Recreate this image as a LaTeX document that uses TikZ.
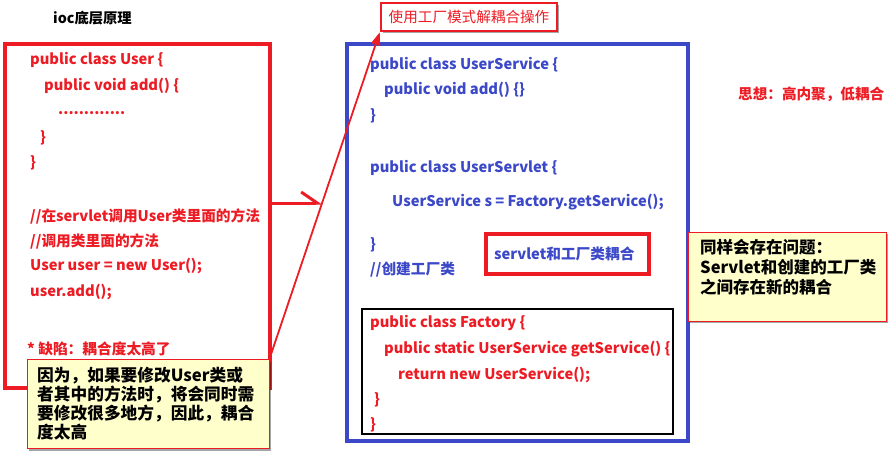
\documentclass[tikz,border=0pt]{standalone}
\usepackage{fontspec}
\setmainfont{Noto Sans CJK SC}
\usetikzlibrary{arrows.meta,shadows}
\definecolor{cred}{RGB}{237,28,36}
\definecolor{cblue}{RGB}{59,72,200}
\definecolor{cyel}{RGB}{255,255,204}
\begin{document}
\begin{tikzpicture}[x=1pt,y=-1pt,
  code/.style={anchor=west,inner sep=0pt,font=\fontsize{14.7}{16}\selectfont\bfseries},
  rcode/.style={code,text=cred},
  bcode/.style={code,text=cblue},
  frame/.style={draw,fill=none,inner sep=0pt},
  shad/.style={drop shadow={shadow xshift=2pt,shadow yshift=-2pt,opacity=0.35,fill=black}},
  callout/.style={frame,draw=cred,line width=0.8pt,fill=cyel,shad},
  calltext/.style={anchor=west,inner sep=0pt,align=left,font=\fontsize{16.7}{19.2}\selectfont\bfseries}]
\useasboundingbox (0,0) rectangle (888,450);
\fill[white] (0,0) rectangle (888,450);

% heading
\node[anchor=west,inner sep=0pt,font=\fontsize{14.3}{16}\selectfont\bfseries] (head) at (53,18) {ioc底层原理};

% left box
\node[frame,draw=cred,line width=4pt,minimum width=265,minimum height=344] (userbox) at (137.5,216) {};
\node[rcode] (l1) at (30,60) {public class User \{};
\node[rcode] (l2) at (44,86) {public void add() \{};
\node[rcode] (l3) at (58,113) {.............};
\node[rcode] (l4) at (40,138) {\}};
\node[rcode] (l5) at (30,163) {\}};
\node[rcode] (l6) at (30,216) {//在servlet调用User类里面的方法};
\node[rcode] (l7) at (30,241) {//调用类里面的方法};
\node[rcode] (l8) at (30,266) {User user = new User();};
\node[rcode] (l9) at (30,292) {user.add();};
\node[rcode] (l10) at (27,349) {* 缺陷：耦合度太高了};

% title box
\node[frame,draw=cred,line width=2.5pt,fill=white,minimum width=176,minimum height=28,shad,
      font=\fontsize{14.6}{16}\selectfont,text=cred] (title) at (469,17) {使用工厂模式解耦合操作};

% blue box
\node[frame,draw=cblue,line width=4pt,minimum width=341,minimum height=397] (svcbox) at (517.5,242.5) {};
\node[bcode] (b1) at (370,65) {public class UserService \{};
\node[bcode] (b2) at (384,90) {public void add() \{\}};
\node[bcode] (b3) at (370,116) {\}};
\node[bcode] (b4) at (370,168) {public class UserServlet \{};
\node[bcode] (b5) at (392,202) {UserService s = Factory.getService();};
\node[bcode] (b6) at (370,245) {\}};
\node[bcode] (b7) at (370,270) {//创建工厂类};

% coupling box
\node[frame,draw=cred,line width=3.5pt,minimum width=163,minimum height=40] (coupbox) at (567.5,254) {};
\node[bcode] (coup) at (494,254) {servlet和工厂类耦合};

% factory box
\node[frame,draw=black,line width=2.5pt,minimum width=311,minimum height=125] (facbox) at (517.5,371.5) {};
\node[rcode] (f1) at (370,323) {public class Factory \{};
\node[rcode] (f2) at (384,349) {public static UserService getService() \{};
\node[rcode] (f3) at (398,375) {return new UserService();};
\node[rcode] (f4) at (374,400) {\}};
\node[rcode] (f5) at (370,425) {\}};

% idea
\node[rcode,font=\fontsize{14.6}{16}\selectfont\bfseries] (idea) at (738,94) {思想：高内聚，低耦合};

% right callout
\node[callout,minimum width=198,minimum height=89] (rcall) at (787,276.5) {};
\node[calltext,font=\fontsize{16.5}{20}\selectfont\bfseries] (rtext) at (700,267.5) {同样会存在问题：\\Servlet和创建的工厂类\\之间存在新的耦合};

% left callout
\node[callout,minimum width=242,minimum height=89] (lcall) at (148,404) {};
\node[calltext] (ltext) at (37,403.5) {因为，如果要修改User类或\\者其中的方法时，将会同时需\\要修改很多地方，因此，耦合\\度太高};

% connectors
\coordinate (harptip) at (322,203);
\draw[cred,line width=3pt,-{Straight Barb[harpoon,length=16pt,width=22pt]}] (userbox.east |- harptip) -- (harptip);
\draw[cred,line width=1.8pt,-{Triangle[length=13pt,width=9pt]}] (lcall.north east) -- (title.south west);
\end{tikzpicture}
\end{document}
